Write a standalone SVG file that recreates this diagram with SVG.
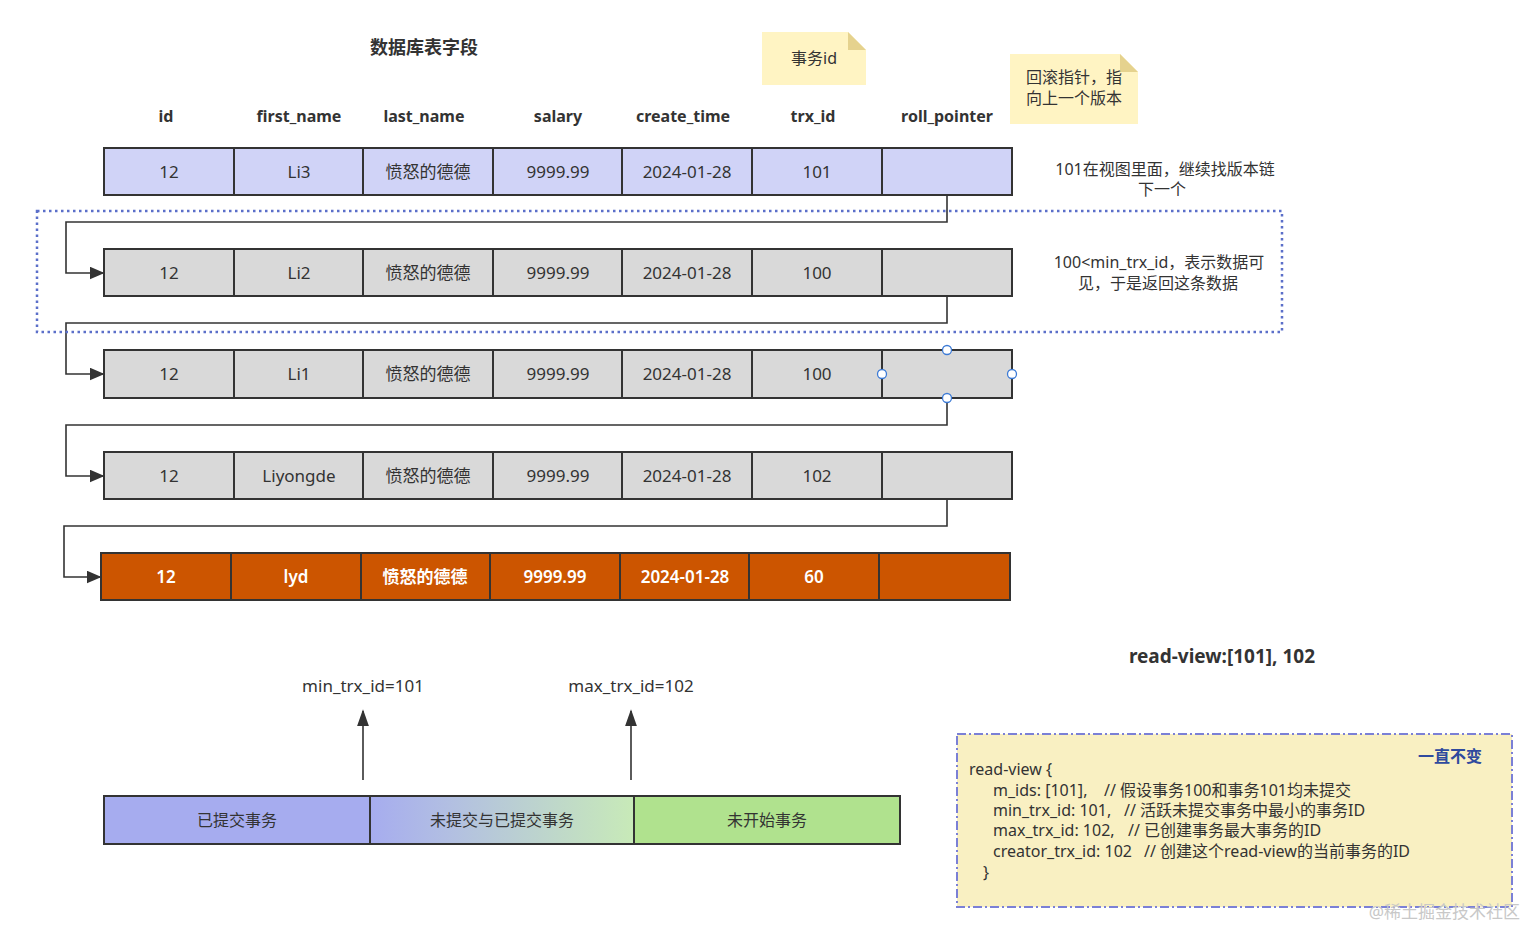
<svg xmlns="http://www.w3.org/2000/svg" width="1527" height="929" viewBox="0 0 1527 929">
<defs>
<style>
text{font-family:"Noto Sans","Noto Sans CJK SC",sans-serif;fill:#333;}
.c{text-anchor:middle;font-size:17px;}
.h{text-anchor:middle;font-size:16px;font-weight:bold;}
.w{text-anchor:middle;font-size:17px;fill:#fff;font-weight:600;}
.n{font-size:16px;}
.cell{stroke:#333;stroke-width:2;}
.r1{fill:#d0d3f7;}
.rg{fill:#d9d9d9;}
.ro{fill:#cc5500;}
.conn{fill:none;stroke:#333;stroke-width:1.6;}
.note{fill:#fff4c3;}
.fold{fill:#e5d28e;}
.hd{fill:#fff;stroke:#3d7bd6;stroke-width:1.3;}
</style>
<marker id="ar" viewBox="0 0 10 10" refX="9" refY="5" markerWidth="15" markerHeight="13" markerUnits="userSpaceOnUse" orient="auto" preserveAspectRatio="none">
<path d="M0,0 L10,5 L0,10 Z" fill="#333"/>
</marker>
<marker id="au" viewBox="0 0 10 10" refX="9" refY="5" markerWidth="17" markerHeight="12" markerUnits="userSpaceOnUse" orient="auto" preserveAspectRatio="none">
<path d="M0,0 L10,5 L0,10 Z" fill="#333"/>
</marker>
<linearGradient id="gr" x1="0" y1="0" x2="1" y2="0">
<stop offset="0" stop-color="#a6acef"/>
<stop offset="0.3" stop-color="#b2bfe2"/>
<stop offset="1" stop-color="#c8eab8"/>
</linearGradient>
</defs>
<rect width="1527" height="929" fill="#fff"/>

<g id="title">
<text x="424" y="54" text-anchor="middle" font-size="18" font-weight="bold">数据库表字段</text>
</g>
<g id="headers">
<text class="h" x="166" y="122">id</text>
<text class="h" x="299" y="122">first_name</text>
<text class="h" x="424" y="122">last_name</text>
<text class="h" x="558" y="122">salary</text>
<text class="h" x="683" y="122">create_time</text>
<text class="h" x="813" y="122">trx_id</text>
<text class="h" x="947" y="122">roll_pointer</text>
</g>

<g id="note-trx">
<path class="note" d="M762,32 L848,32 L866,50 L866,85 L762,85 Z"/>
<path class="fold" d="M848,32 L848,50 L866,50 Z"/>
<text class="n" x="814" y="64" text-anchor="middle">事务id</text>
</g>
<g id="note-roll">
<path class="note" d="M1010,54 L1120,54 L1138,72 L1138,124 L1010,124 Z"/>
<path class="fold" d="M1120,54 L1120,72 L1138,72 Z"/>
<text class="n" x="1074" y="83" text-anchor="middle">回滚指针，指</text>
<text class="n" x="1074" y="104" text-anchor="middle">向上一个版本</text>
</g>

<g id="row1">
<rect class="cell r1" x="104" y="148" width="130" height="47"/>
<rect class="cell r1" x="234" y="148" width="129" height="47"/>
<rect class="cell r1" x="363" y="148" width="130" height="47"/>
<rect class="cell r1" x="493" y="148" width="129" height="47"/>
<rect class="cell r1" x="622" y="148" width="130" height="47"/>
<rect class="cell r1" x="752" y="148" width="130" height="47"/>
<rect class="cell r1" x="882" y="148" width="130" height="47"/>
<text class="c" x="169" y="178">12</text>
<text class="c" x="299" y="178">Li3</text>
<text class="c" x="428" y="178">愤怒的德德</text>
<text class="c" x="558" y="178">9999.99</text>
<text class="c" x="687" y="178">2024-01-28</text>
<text class="c" x="817" y="178">101</text>
</g>
<g id="row2">
<rect class="cell rg" x="104" y="249" width="130" height="47"/>
<rect class="cell rg" x="234" y="249" width="129" height="47"/>
<rect class="cell rg" x="363" y="249" width="130" height="47"/>
<rect class="cell rg" x="493" y="249" width="129" height="47"/>
<rect class="cell rg" x="622" y="249" width="130" height="47"/>
<rect class="cell rg" x="752" y="249" width="130" height="47"/>
<rect class="cell rg" x="882" y="249" width="130" height="47"/>
<text class="c" x="169" y="279">12</text>
<text class="c" x="299" y="279">Li2</text>
<text class="c" x="428" y="279">愤怒的德德</text>
<text class="c" x="558" y="279">9999.99</text>
<text class="c" x="687" y="279">2024-01-28</text>
<text class="c" x="817" y="279">100</text>
</g>
<g id="row3">
<rect class="cell rg" x="104" y="350" width="130" height="48"/>
<rect class="cell rg" x="234" y="350" width="129" height="48"/>
<rect class="cell rg" x="363" y="350" width="130" height="48"/>
<rect class="cell rg" x="493" y="350" width="129" height="48"/>
<rect class="cell rg" x="622" y="350" width="130" height="48"/>
<rect class="cell rg" x="752" y="350" width="130" height="48"/>
<rect class="cell rg" x="882" y="350" width="130" height="48"/>
<text class="c" x="169" y="380">12</text>
<text class="c" x="299" y="380">Li1</text>
<text class="c" x="428" y="380">愤怒的德德</text>
<text class="c" x="558" y="380">9999.99</text>
<text class="c" x="687" y="380">2024-01-28</text>
<text class="c" x="817" y="380">100</text>
</g>
<g id="row4">
<rect class="cell rg" x="104" y="452" width="130" height="47"/>
<rect class="cell rg" x="234" y="452" width="129" height="47"/>
<rect class="cell rg" x="363" y="452" width="130" height="47"/>
<rect class="cell rg" x="493" y="452" width="129" height="47"/>
<rect class="cell rg" x="622" y="452" width="130" height="47"/>
<rect class="cell rg" x="752" y="452" width="130" height="47"/>
<rect class="cell rg" x="882" y="452" width="130" height="47"/>
<text class="c" x="169" y="482">12</text>
<text class="c" x="299" y="482">Liyongde</text>
<text class="c" x="428" y="482">愤怒的德德</text>
<text class="c" x="558" y="482">9999.99</text>
<text class="c" x="687" y="482">2024-01-28</text>
<text class="c" x="817" y="482">102</text>
</g>
<g id="row5">
<rect class="cell ro" x="101" y="553" width="130" height="47"/>
<rect class="cell ro" x="231" y="553" width="130" height="47"/>
<rect class="cell ro" x="361" y="553" width="129" height="47"/>
<rect class="cell ro" x="490" y="553" width="130" height="47"/>
<rect class="cell ro" x="620" y="553" width="129" height="47"/>
<rect class="cell ro" x="749" y="553" width="130" height="47"/>
<rect class="cell ro" x="879" y="553" width="131" height="47"/>
<text class="w" x="166" y="583">12</text>
<text class="w" x="296" y="583">lyd</text>
<text class="w" x="425" y="583">愤怒的德德</text>
<text class="w" x="555" y="583">9999.99</text>
<text class="w" x="685" y="583">2024-01-28</text>
<text class="w" x="814" y="583">60</text>
</g>

<g id="connectors">
<path class="conn" d="M947,195 L947,222 L66,222 L66,273 L103,273" marker-end="url(#ar)"/>
<path class="conn" d="M947,296 L947,323 L66,323 L66,374 L103,374" marker-end="url(#ar)"/>
<path class="conn" d="M947,398 L947,425 L66,425 L66,476 L103,476" marker-end="url(#ar)"/>
<path class="conn" d="M947,499 L947,526 L64,526 L64,577 L100,577" marker-end="url(#ar)"/>
<path class="conn" d="M363,780 L363,711" stroke-width="2" marker-end="url(#au)"/>
<path class="conn" d="M631,780 L631,711" stroke-width="2" marker-end="url(#au)"/>
</g>

<g id="selection">
<circle class="hd" cx="947" cy="350" r="4.5"/>
<circle class="hd" cx="882" cy="374" r="4.5"/>
<circle class="hd" cx="1012" cy="374" r="4.5"/>
<circle class="hd" cx="947" cy="398" r="4.5"/>
</g>

<g id="visible-group">
<rect x="37" y="211" width="1245" height="121" fill="none" stroke="#5b6fc9" stroke-width="2.5" stroke-dasharray="2.5,3.5"/>
</g>

<g id="notes-right">
<text class="n" x="1165" y="175" text-anchor="middle">101在视图里面，继续找版本链</text>
<text class="n" x="1162" y="195" text-anchor="middle">下一个</text>
<text class="n" x="1159" y="268" text-anchor="middle">100&lt;min_trx_id，表示数据可</text>
<text class="n" x="1158" y="289" text-anchor="middle">见，于是返回这条数据</text>
</g>

<g id="rv-title">
<text x="1222" y="663" text-anchor="middle" font-size="19" font-weight="bold">read-view:[101], 102</text>
</g>

<g id="labels">
<text x="363" y="692" text-anchor="middle" font-size="17">min_trx_id=101</text>
<text x="631" y="692" text-anchor="middle" font-size="17">max_trx_id=102</text>
</g>

<g id="bar">
<rect class="cell" x="104" y="796" width="266" height="48" fill="#a6acef"/>
<rect class="cell" x="370" y="796" width="264" height="48" fill="url(#gr)"/>
<rect class="cell" x="634" y="796" width="266" height="48" fill="#b0e28e"/>
<text class="n" x="237" y="826" text-anchor="middle">已提交事务</text>
<text class="n" x="502" y="826" text-anchor="middle">未提交与已提交事务</text>
<text class="n" x="767" y="826" text-anchor="middle">未开始事务</text>
</g>

<g id="readview-box">
<rect x="957" y="734" width="555" height="173" fill="#f9f0c2" stroke="#7b80d6" stroke-width="2" stroke-dasharray="9,3,2,3"/>
<text x="1482" y="762" text-anchor="end" font-size="16" font-weight="bold" style="fill:#2f4a9e">一直不变</text>
<text class="n" x="969" y="775">read-view {</text>
<text class="n" x="993" y="796">m_ids: [101],</text>
<text class="n" x="1104" y="796">// 假设事务100和事务101均未提交</text>
<text class="n" x="993" y="816">min_trx_id: 101,</text>
<text class="n" x="1124" y="816">// 活跃未提交事务中最小的事务ID</text>
<text class="n" x="993" y="836">max_trx_id: 102,</text>
<text class="n" x="1128" y="836">// 已创建事务最大事务的ID</text>
<text class="n" x="993" y="857">creator_trx_id: 102</text>
<text class="n" x="1144" y="857">// 创建这个read-view的当前事务的ID</text>
<text class="n" x="983" y="878">}</text>
</g>

<g id="watermark">
<text x="1520" y="918" text-anchor="end" font-size="17" style="fill:#c8c8c8">@稀土掘金技术社区</text>
</g>
</svg>
